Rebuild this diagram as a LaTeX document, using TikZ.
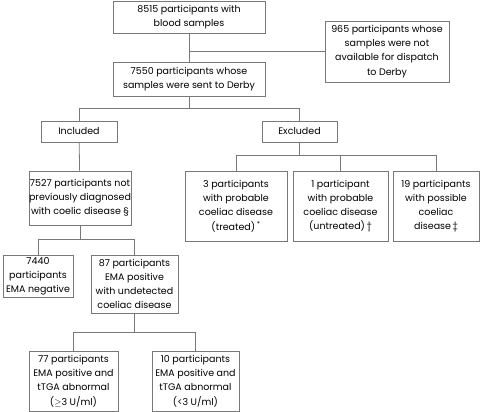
\documentclass[tikz,border=0pt]{standalone}
\usepackage{fontspec}
\setmainfont{Poppins}
\usetikzlibrary{calc}
\definecolor{linegray}{RGB}{120,120,120}

\begin{document}
\begin{tikzpicture}[x = 1pt, y = -1pt,
    box/.style = {draw = linegray, line width = 0.8pt, align = center, inner sep = 0pt,
        font = \fontsize{9.5}{14.2}\selectfont},
    link/.style = {draw = linegray, line width = 0.8pt}]
    % Frame of the picture
    \useasboundingbox (0,0) rectangle (480,412);

    % Draw top boxes
    \node[box, minimum width = 152pt, minimum height = 32pt] (A) at (189,17) {8515 participants with\\blood samples};
    \node[box, minimum width = 124pt, minimum height = 61pt] (N) at (387,51.5) {965 participants whose\\samples were not\\available for dispatch\\to Derby};
    \node[box, minimum width = 152pt, minimum height = 34pt] (B) at (189,79) {7550 participants whose\\samples were sent to Derby};

    % Draw the two groups
    \node[box, minimum width = 76pt, minimum height = 21pt] (I) at (79,131.5) {Included};
    \node[box, minimum width = 75pt, minimum height = 21pt] (E) at (299.5,131.5) {Excluded};

    % Draw excluded boxes
    \node[box, minimum width = 102pt, minimum height = 70pt] (T) at (236,206) {3 participants\\with probable\\coeliac disease\\(treated)\,\textsuperscript{*}};
    \node[box, minimum width = 95pt, minimum height = 70pt] (U) at (340.5,206) {1 participant\\with probable\\coeliac disease\\(untreated)\,\dag};
    \node[box, minimum width = 86pt, minimum height = 70pt] (P) at (436,206) {19 participants\\with possible\\coeliac\\disease\,\ddag};

    % Draw included boxes
    \node[box, minimum width = 102pt, minimum height = 54pt] (C) at (80,198) {7527 participants not\\previously diagnosed\\with coelic disease \S};
    \node[box, minimum width = 70pt, minimum height = 42pt] (G) at (38,276) {7440\\participants\\EMA negative};
    \node[box, minimum width = 87pt, minimum height = 58pt] (D) at (134.5,284) {87 participants\\EMA positive\\with undetected\\coeliac disease};
    \node[box, minimum width = 89pt, minimum height = 60pt] (H) at (73.5,381) {77 participants\\EMA positive and\\tTGA abnormal\\($\geq$3 U/ml)};
    \node[box, minimum width = 87pt, minimum height = 60pt] (L) at (195.5,381) {10 participants\\EMA positive and\\tTGA abnormal\\(<3 U/ml)};

    % Draw connectors
    \draw[link] (A) -- (B);
    \draw[link] (N.west) -- (N.west -| A.south);
    \draw[link] (B.south) -- ++(0,12) coordinate (M) -| (I.north);
    \draw[link] (M) -| (E.north);
    \draw[link] (I) -- (C);
    \draw[link] (E.south) -- ++(0,13) coordinate (K) -| (T.north);
    \draw[link] (K) -| (P.north);
    \draw[link] (K -| U.north) -- (U.north);
    \draw[link] (C.south) -- ++(0,14) coordinate (Q) -| (G.north);
    \draw[link] (Q) -| (D.north);
    \draw[link] (D.south) -- ++(0,19) coordinate (R) -| (H.north);
    \draw[link] (R) -| (L.north);

\end{tikzpicture}
\end{document}
